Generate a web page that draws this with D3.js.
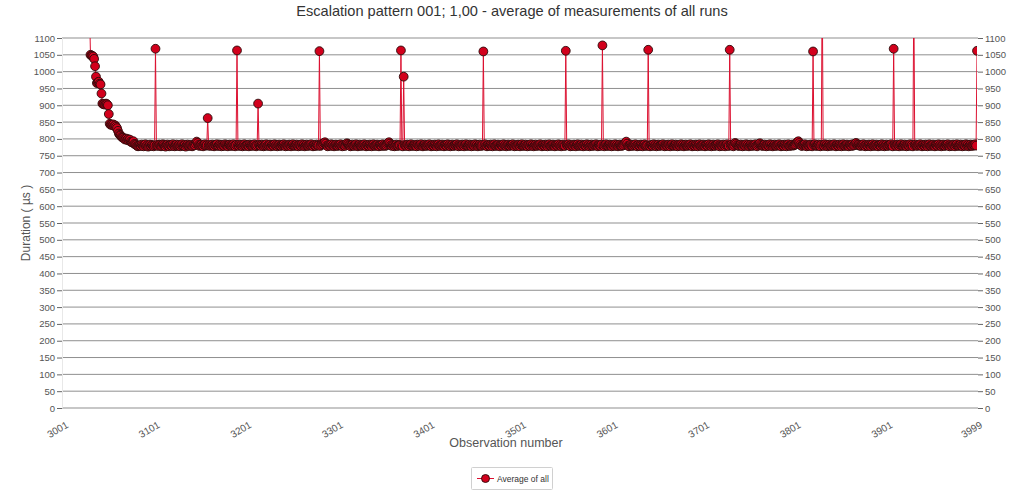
<!DOCTYPE html>
<html>
<head>
<meta charset="utf-8">
<script src="https://cdn.jsdelivr.net/npm/d3@7"></script>
<style>
  html, body { margin: 0; padding: 0; background: #fff; }
  svg { display: block; font-family: "Liberation Sans", Arial, sans-serif; }
</style>
</head>
<body>
<svg id="chart" width="1024" height="493"></svg>
<script>
// ---------------- DATA ----------------
const chartTitle = "Escalation pattern 001; 1,00 - average of measurements of all runs";
const xAxisTitle = "Observation number";
const yAxisTitle = "Duration ( µs )";
const seriesName = "Average of all";

const xTickValues = [3001, 3101, 3201, 3301, 3401, 3501, 3601, 3701, 3801, 3901, 3999];
const yTickValues = [0, 50, 100, 150, 200, 250, 300, 350, 400, 450, 500, 550, 600, 650, 700,
                     750, 800, 850, 900, 950, 1000, 1050, 1100];

// first observation that carries a measurement
const firstObservation = 3030;

// warm-up phase, observations 3030 - 3084
const warmupDurations = [
  1180, 1050, 1048, 1047, 1045, 1038, 1016, 985, 966, 968,
  970, 964, 962, 935, 905, 903, 904, 902, 905, 903,
  900, 874, 845, 842, 843, 841, 843, 838, 840, 836,
  832, 824, 816, 812, 810, 806, 804, 803, 800, 798,
  801, 797, 799, 795, 798, 792, 790, 789, 793, 785,
  784, 782, 779, 778, 780
];

// steady phase, observations 3085 - 3999 (20 per row)
const steadyDurations = [
  781, 779, 783, 780, 778, 782, 784, 779, 781, 777, 780, 783, 779, 782, 780, 778, 781, 1068, 780, 782,
  779, 783, 781, 778, 780, 784, 782, 779, 777, 781, 783, 780, 778, 782, 781, 779, 784, 780, 778, 781,
  783, 779, 780, 782, 778, 781, 784, 780, 779, 782, 777, 781, 783, 780, 779, 782, 781, 778, 780, 783,
  781, 786, 792, 788, 782, 779, 781, 783, 780, 778, 782, 784, 780, 781, 862, 780, 782, 779, 781, 783,
  780, 778, 782, 781, 784, 779, 780, 783, 781, 778, 782, 780, 779, 784, 781, 780, 778, 782, 783, 780,
  779, 781, 784, 780, 778, 782, 1063, 781, 779, 783, 780, 782, 778, 781, 784, 780, 779, 782, 781, 778,
  783, 780, 781, 779, 782, 784, 780, 778, 781, 905, 782, 780, 779, 783, 781, 778, 780, 782, 784, 779,
  781, 780, 783, 778, 782, 781, 779, 784, 780, 782, 778, 781, 783, 780, 779, 782, 781, 784, 780, 778,
  782, 780, 779, 783, 781, 778, 782, 784, 780, 779, 781, 783, 780, 778, 782, 781, 779, 784, 780, 782,
  778, 781, 783, 780, 779, 782, 781, 784, 780, 778, 782, 780, 779, 783, 781, 780, 1061, 779, 782, 786,
  784, 788, 790, 786, 780, 778, 782, 781, 779, 784, 780, 782, 778, 781, 783, 780, 779, 782, 781, 784,
  780, 778, 782, 781, 779, 783, 787, 785, 782, 780, 778, 781, 783, 780, 779, 782, 784, 780, 778, 781,
  783, 780, 779, 782, 781, 784, 780, 778, 782, 780, 779, 783, 781, 778, 782, 784, 780, 779, 781, 783,
  780, 778, 782, 781, 779, 784, 780, 782, 779, 781, 785, 788, 790, 786, 781, 779, 782, 780, 778, 781,
  783, 780, 779, 782, 781, 1063, 780, 778, 985, 782, 780, 779, 783, 781, 778, 782, 784, 780, 779, 781,
  782, 780, 778, 783, 781, 779, 782, 784, 780, 778, 781, 783, 780, 779, 782, 781, 784, 780, 778, 782,
  780, 779, 783, 781, 778, 782, 784, 780, 779, 781, 783, 780, 778, 782, 781, 779, 784, 780, 782, 778,
  781, 783, 780, 779, 782, 781, 784, 780, 778, 782, 780, 779, 783, 781, 778, 782, 784, 780, 779, 781,
  783, 780, 778, 782, 781, 779, 784, 780, 782, 778, 781, 783, 780, 779, 782, 1060, 781, 784, 780, 778,
  782, 780, 779, 783, 781, 778, 782, 784, 780, 779, 781, 783, 780, 778, 782, 781, 779, 784, 780, 782,
  778, 781, 783, 780, 779, 782, 781, 784, 780, 778, 782, 780, 779, 783, 781, 778, 782, 784, 780, 779,
  781, 783, 780, 778, 782, 781, 779, 784, 780, 782, 778, 781, 783, 780, 779, 782, 781, 784, 780, 778,
  782, 780, 779, 783, 781, 778, 782, 784, 780, 779, 781, 783, 780, 778, 782, 781, 779, 784, 780, 782,
  778, 781, 783, 780, 779, 1062, 782, 781, 784, 780, 778, 782, 780, 779, 783, 781, 778, 782, 784, 780,
  779, 781, 783, 780, 778, 782, 781, 779, 784, 780, 782, 778, 781, 783, 780, 779, 782, 781, 784, 780,
  778, 782, 780, 779, 783, 1078, 781, 778, 782, 784, 780, 779, 781, 783, 780, 778, 782, 781, 779, 784,
  780, 782, 778, 781, 783, 780, 779, 782, 781, 785, 789, 792, 786, 780, 778, 781, 783, 780, 779, 782,
  781, 784, 780, 778, 782, 780, 779, 783, 781, 778, 782, 784, 780, 779, 781, 1065, 780, 778, 782, 781,
  779, 784, 780, 782, 778, 781, 783, 780, 779, 782, 781, 784, 780, 778, 782, 780, 779, 783, 781, 778,
  782, 784, 780, 779, 781, 783, 780, 778, 782, 781, 779, 784, 780, 782, 778, 781, 783, 780, 779, 782,
  781, 784, 780, 778, 782, 780, 779, 783, 781, 778, 782, 784, 780, 779, 781, 783, 780, 778, 782, 781,
  779, 784, 780, 782, 778, 781, 783, 780, 779, 782, 781, 784, 780, 778, 782, 780, 779, 783, 781, 778,
  782, 784, 780, 779, 1065, 781, 783, 780, 778, 782, 788, 785, 781, 780, 779, 781, 783, 780, 778, 782,
  781, 779, 784, 780, 782, 778, 781, 783, 780, 779, 782, 781, 784, 780, 778, 782, 785, 787, 783, 780,
  779, 781, 783, 780, 778, 782, 781, 779, 784, 780, 782, 778, 781, 783, 780, 779, 782, 781, 784, 780,
  778, 782, 780, 779, 783, 781, 778, 782, 784, 780, 779, 781, 783, 780, 781, 782, 784, 788, 791, 793,
  788, 783, 780, 779, 782, 781, 784, 780, 778, 782, 780, 779, 783, 781, 778, 1060, 781, 784, 780, 779,
  781, 783, 780, 778, 782, 1290, 781, 779, 784, 780, 782, 778, 781, 783, 780, 779, 782, 781, 784, 780,
  778, 782, 780, 779, 783, 781, 778, 782, 784, 780, 779, 781, 783, 780, 778, 782, 781, 779, 784, 780,
  782, 786, 788, 784, 781, 783, 780, 779, 782, 781, 784, 780, 778, 782, 780, 779, 783, 781, 778, 782,
  784, 780, 779, 781, 783, 780, 778, 782, 781, 779, 784, 780, 782, 778, 781, 783, 780, 779, 782, 781,
  784, 780, 778, 1068, 782, 780, 779, 783, 781, 778, 782, 784, 780, 779, 781, 783, 780, 778, 782, 781,
  779, 784, 780, 782, 778, 1240, 781, 783, 780, 779, 782, 781, 784, 780, 778, 782, 780, 779, 783, 781,
  778, 782, 784, 780, 779, 781, 783, 780, 778, 782, 781, 779, 784, 780, 782, 778, 781, 783, 780, 779,
  782, 781, 784, 780, 778, 782, 780, 779, 783, 781, 778, 782, 784, 780, 779, 781, 783, 780, 778, 782,
  781, 779, 784, 780, 782, 778, 781, 783, 780, 779, 782, 781, 784, 780, 1062
];

// ---------------- CHART ----------------
const durations = warmupDurations.concat(steadyDurations);
const points = durations.map((v, i) => ({ obs: firstObservation + i, value: v }));

const W = 1024, H = 493;
const plot = { left: 62, right: 978, top: 38, bottom: 408 };
const lineColor = "#dc1030";
const markerFill = "#d2001c";
const markerStroke = "#2a0a0a";

const svg = d3.select("#chart");
svg.append("rect").attr("width", W).attr("height", H).attr("fill", "#fff");

const x = d3.scaleLinear().domain([3001, 3999]).range([63, 977]);
const y = d3.scaleLinear().domain([0, 1100]).range([plot.bottom, plot.top]);

// Gridlines
svg.append("g").selectAll("line").data(yTickValues).join("line")
  .attr("x1", plot.left).attr("x2", plot.right)
  .attr("y1", d => y(d)).attr("y2", d => y(d))
  .attr("stroke", "#8f8f8f").attr("stroke-width", 1);

// plot left border
svg.append("line").attr("x1", plot.left + 0.5).attr("x2", plot.left + 0.5)
  .attr("y1", plot.top).attr("y2", plot.bottom).attr("stroke", "#e8e8e8");

// Left axis
const leftAxis = d3.axisLeft(y).tickValues(yTickValues).tickSize(5).tickPadding(2).tickFormat(d3.format("d"));
const gl = svg.append("g").attr("transform", `translate(${plot.left},0)`).call(leftAxis);
gl.select(".domain").remove();
gl.selectAll(".tick line").attr("stroke", "#666");
gl.selectAll(".tick text").attr("fill", "#555").style("font-size", "9.5px")
  .style("font-family", "'Liberation Sans', Arial, sans-serif");

// Right axis
const rightAxis = d3.axisRight(y).tickValues(yTickValues).tickSize(5).tickPadding(2).tickFormat(d3.format("d"));
const gr = svg.append("g").attr("transform", `translate(${plot.right},0)`).call(rightAxis);
gr.select(".domain").remove();
gr.selectAll(".tick line").attr("stroke", "#666");
gr.selectAll(".tick text").attr("fill", "#555").style("font-size", "9.5px")
  .style("font-family", "'Liberation Sans', Arial, sans-serif");

// Bottom axis labels (rotated)
const bottomAxis = d3.axisBottom(x).tickValues(xTickValues).tickSize(0).tickFormat(d3.format("d"));
const gb = svg.append("g").attr("transform", `translate(0,${plot.bottom})`).call(bottomAxis);
gb.select(".domain").remove();
gb.selectAll(".tick text")
  .attr("fill", "#555")
  .style("font-size", "10px")
  .style("font-family", "'Liberation Sans', Arial, sans-serif")
  .attr("text-anchor", "end")
  .attr("dy", null)
  .attr("y", 0)
  .attr("transform", "translate(5.5,19) rotate(-30)");

// Clip
svg.append("clipPath").attr("id", "plotClip")
  .append("rect").attr("x", plot.left).attr("y", plot.top)
  .attr("width", 977 - plot.left).attr("height", plot.bottom - plot.top);

const series = svg.append("g").attr("clip-path", "url(#plotClip)");
const line = d3.line().x(d => x(d.obs)).y(d => y(d.value));
series.append("path").datum(points)
  .attr("d", line).attr("fill", "none")
  .attr("stroke", lineColor).attr("stroke-width", 1);

series.append("g").selectAll("circle").data(points).join("circle")
  .attr("cx", d => x(d.obs)).attr("cy", d => y(d.value)).attr("r", 4.4)
  .attr("fill", markerFill).attr("stroke", markerStroke).attr("stroke-width", 0.9);

// Title
svg.append("text").attr("x", 512).attr("y", 16).attr("text-anchor", "middle")
  .attr("fill", "#333").style("font-size", "14.6px").text(chartTitle);

// Axis titles
svg.append("text").attr("x", 506).attr("y", 447).attr("text-anchor", "middle")
  .attr("fill", "#555").style("font-size", "12.5px").text(xAxisTitle);
svg.append("text").attr("transform", `translate(30,${(plot.top + plot.bottom) / 2}) rotate(-90)`)
  .attr("text-anchor", "middle").attr("fill", "#555").style("font-size", "12px").text(yAxisTitle);

// Legend
const lg = svg.append("g");
lg.append("rect").attr("x", 471.5).attr("y", 467.5).attr("width", 81).attr("height", 22)
  .attr("rx", 1).attr("fill", "#fff").attr("stroke", "#d0d0d0");
lg.append("line").attr("x1", 477).attr("x2", 494).attr("y1", 478.5).attr("y2", 478.5)
  .attr("stroke", lineColor).attr("stroke-width", 1);
lg.append("circle").attr("cx", 485.5).attr("cy", 478.5).attr("r", 4)
  .attr("fill", markerFill).attr("stroke", markerStroke).attr("stroke-width", 0.9);
lg.append("text").attr("x", 497).attr("y", 481.5).attr("fill", "#333")
  .style("font-size", "8.5px").text(seriesName);
</script>
</body>
</html>
